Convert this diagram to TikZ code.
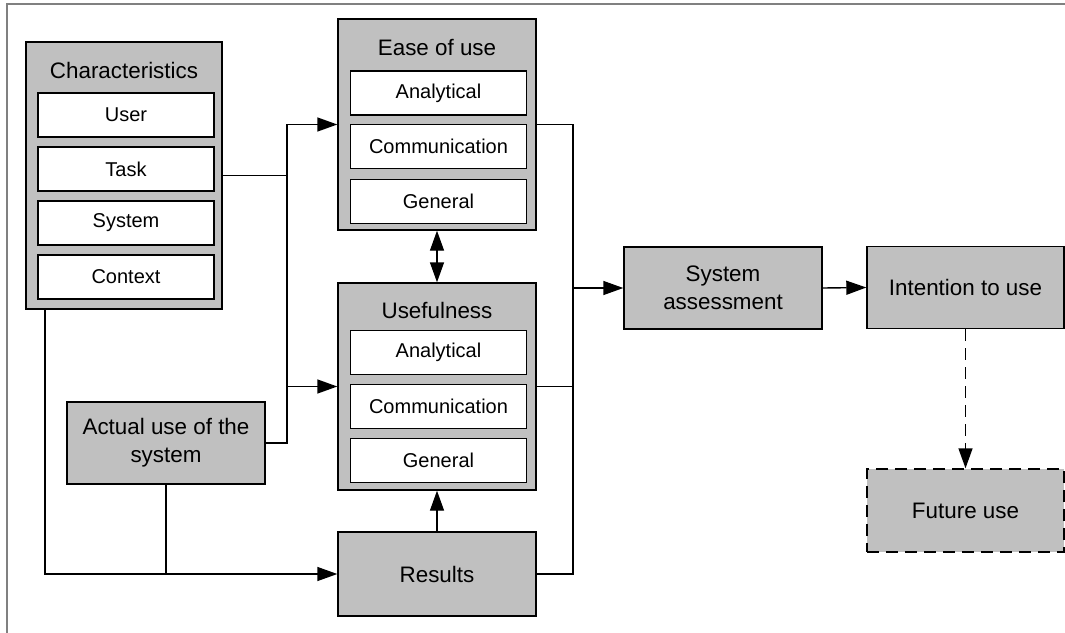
\documentclass[tikz,border=0pt]{standalone}
\usepackage{fontspec}
\setmainfont{Liberation Sans}
\usetikzlibrary{arrows.meta}
\definecolor{boxgray}{RGB}{192,192,192}
\definecolor{framegray}{RGB}{128,128,128}
\tikzset{
  outerbox/.style={draw=black, fill=boxgray, line width=1.4pt, inner sep=0pt},
  innerbox/.style={draw=black, fill=white, line width=1.4pt, inner sep=0pt,
    minimum width=176pt, minimum height=44pt, font=\fontsize{20}{24}\selectfont},
  mainbox/.style={outerbox, minimum width=198pt, minimum height=82pt, align=center,
    font=\fontsize{22.4}{28}\selectfont},
  titletext/.style={inner sep=0pt, font=\fontsize{22.4}{26}\selectfont},
  conn/.style={line width=1.4pt},
  arr/.style={conn, -{Triangle[length=20pt,width=14pt]}},
  dblarr/.style={conn, {Triangle[length=20pt,width=14pt]}-{Triangle[length=20pt,width=14pt]}},
}
\begin{document}
\begin{tikzpicture}[x=1pt,y=-1pt]
\useasboundingbox (0,0) rectangle (1065,632);
\clip (0,0) rectangle (1065,632);
% outer frame
\draw[framegray, line width=2pt] (7,700) -- (7,4) -- (1100,4);

% Characteristics group
\node[outerbox, minimum width=196pt, minimum height=267pt] (char) at (124,175.5) {};
\node[titletext] (chart) at (124,70) {Characteristics};
\node[innerbox] (user) at (126,115) {User};
\node[innerbox] (task) at (126,169) {Task};
\node[innerbox] (system) at (126,223) {System};
\node[innerbox] (context) at (126,277) {Context};

% Ease of use group
\node[outerbox, minimum width=198pt, minimum height=211pt] (ease) at (437,124.5) {};
\node[titletext] (easet) at (437,48) {Ease of use};
\node[innerbox] (eanal) at (438.5,93) {Analytical};
\node[innerbox] (ecomm) at (438.5,146.5) {Communication};
\node[innerbox] (egen) at (438.5,201.5) {General};

% Usefulness group
\node[outerbox, minimum width=198pt, minimum height=207pt] (useful) at (437,386.5) {};
\node[titletext] (usefult) at (437,310) {Usefulness};
\node[innerbox] (uanal) at (438.5,352.5) {Analytical};
\node[innerbox] (ucomm) at (438.5,406.5) {Communication};
\node[innerbox] (ugen) at (438.5,460.5) {General};

% Single boxes
\node[mainbox] (actual) at (166,443) {Actual use of the\\system};
\node[mainbox, minimum height=84pt] (results) at (437,574) {Results};
\node[mainbox] (sysass) at (723,288) {System\\assessment};
\node[mainbox, minimum width=197pt] (intent) at (965.5,287.5) {Intention to use};
\node[mainbox, minimum width=197pt, minimum height=83pt, dash pattern=on 12pt off 7pt] (future) at (965.5,510.5) {Future use};

% Junction points
\coordinate (jl) at (287,175.5);
\coordinate (jr) at (573,124.5);
\coordinate (cb) at (45,309);

% Connectors on the left
\draw[conn] (char.east) -- (jl);
\draw[arr] (jl) |- (ease.west);
\draw[conn] (jl) -- (jl |- useful.west);
\draw[arr] (actual.east) -| (jl |- useful.west) -- (useful.west);
\draw[arr] (cb) |- (results.west);
\draw[conn] (actual.south) -- (actual.south |- results.west);

% Connectors in the middle
\draw[arr] (results.north) -- (useful.south);
\draw[dblarr] (ease.south) -- (useful.north);

% Connectors on the right
\draw[conn] (ease.east) -- (jr) -- (jr |- results.east) -- (results.east);
\draw[conn] (useful.east) -- (jr |- useful.east);
\draw[arr] (jr |- sysass.west) -- (sysass.west);
\draw[arr] (sysass.east) -- (intent.west);
\draw[arr, dash pattern=on 12pt off 7pt] (intent.south) -- (future.north);
\end{tikzpicture}
\end{document}
